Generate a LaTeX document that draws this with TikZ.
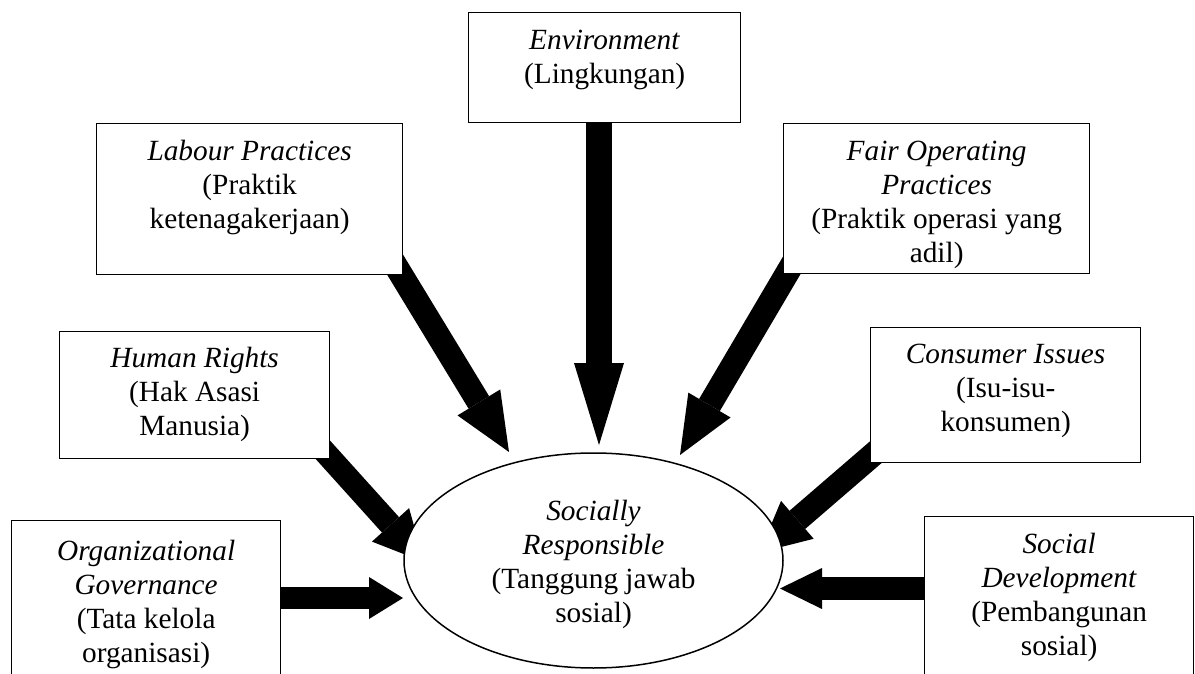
\documentclass[tikz,border=0pt]{standalone}
\usepackage{fontspec}
\setmainfont{Liberation Serif}
\usetikzlibrary{arrows.meta,shapes.geometric,calc}
\pgfdeclarelayer{bg}
\pgfsetlayers{bg,main}
\tikzset{
  boxnode/.style={draw=black, line width=1.3pt, fill=white, rectangle, inner sep=0pt, anchor=north west},
  txt/.style={align=center, inner sep=0pt, anchor=north, font=\fontsize{29.3}{34}\selectfont},
  blockarrow/.style n args={3}{line width=#1, draw=black,
     -{Triangle[length=#2,width=#3,line width=0pt]}},
}
\begin{document}
\begin{tikzpicture}[x=1pt,y=-1pt]
\useasboundingbox (0,0) rectangle (1195,674);

% boxes
\node[boxnode, minimum width=272pt, minimum height=110pt] (env) at (468,12) {};
\node[boxnode, minimum width=306pt, minimum height=151pt] (lab) at (96,123) {};
\node[boxnode, minimum width=306pt, minimum height=150pt] (fair) at (783,123) {};
\node[boxnode, minimum width=270pt, minimum height=127pt] (hr) at (59,331) {};
\node[boxnode, minimum width=270pt, minimum height=135pt] (cons) at (870,327) {};
\node[boxnode, minimum width=269pt, minimum height=200pt] (org) at (11,520) {};
\node[boxnode, minimum width=269pt, minimum height=200pt] (soc) at (924,516) {};
\node[draw=black, line width=1.5pt, fill=white, ellipse, inner sep=0pt,
      minimum width=379pt, minimum height=215pt] (sr) at (593.5,560.5) {};

% texts
\node[txt] (envt) at ($(env.north)+(0,13.2)$) {\strut\textit{Environment}\\(Lingkungan)};
\node[txt] (labt) at ($(lab.north)+(0,13.2)$) {\strut\textit{Labour Practices}\\(Praktik\\ketenagakerjaan)};
\node[txt] (fairt) at ($(fair.north)+(0,13.2)$) {\strut\textit{Fair Operating}\\\textit{Practices}\\(Praktik operasi yang\\adil)};
\node[txt] (hrt) at ($(hr.north)+(0,12.2)$) {\strut\textit{Human Rights}\\(Hak Asasi\\Manusia)};
\node[txt] (const) at ($(cons.north)+(0,12.2)$) {\strut\textit{Consumer Issues}\\(Isu-isu-\\konsumen)};
\node[txt] (orgt) at ($(org.north)+(0,16.2)$) {\strut\textit{Organizational}\\\textit{Governance}\\(Tata kelola\\organisasi)};
\node[txt] (soct) at ($(soc.north)+(0,13.2)$) {\strut\textit{Social}\\\textit{Development}\\(Pembangunan\\sosial)};
\node[txt] (srt) at (593.5,496.2) {\strut\textit{Socially}\\\textit{Responsible}\\(Tanggung jawab\\sosial)};

% arrow ends
\coordinate (envS) at (599,100);   \coordinate (envT) at (599,445);
\coordinate (labS) at (374,230);   \coordinate (labT) at (509,452);
\coordinate (fairS) at (812,231);  \coordinate (fairT) at (680,455);
\coordinate (hrS) at (296,420);    \coordinate (hrT) at (424,562);
\coordinate (consS) at (905,427);  \coordinate (consT) at (759.5,552.5);
\coordinate (orgS) at (250,598);   \coordinate (orgT) at (403,598);
\coordinate (socS) at (950,588.5); \coordinate (socT) at (780,588.5);

\begin{pgfonlayer}{bg}
\draw[blockarrow={26pt}{82pt}{50pt}] (envS) -- (envT);
\draw[blockarrow={24pt}{58pt}{50pt}] (labS) -- (labT);
\draw[blockarrow={24pt}{58pt}{49pt}] (fairS) -- (fairT);
\draw[blockarrow={23pt}{50pt}{50pt}] (hrS) -- (hrT);
\draw[blockarrow={24pt}{50pt}{50pt}] (consS) -- (consT);
\draw[blockarrow={22pt}{34pt}{42pt}] (orgS) -- (orgT);
\draw[blockarrow={23pt}{42pt}{41pt}] (socS) -- (socT);
\end{pgfonlayer}
\end{tikzpicture}
\end{document}
